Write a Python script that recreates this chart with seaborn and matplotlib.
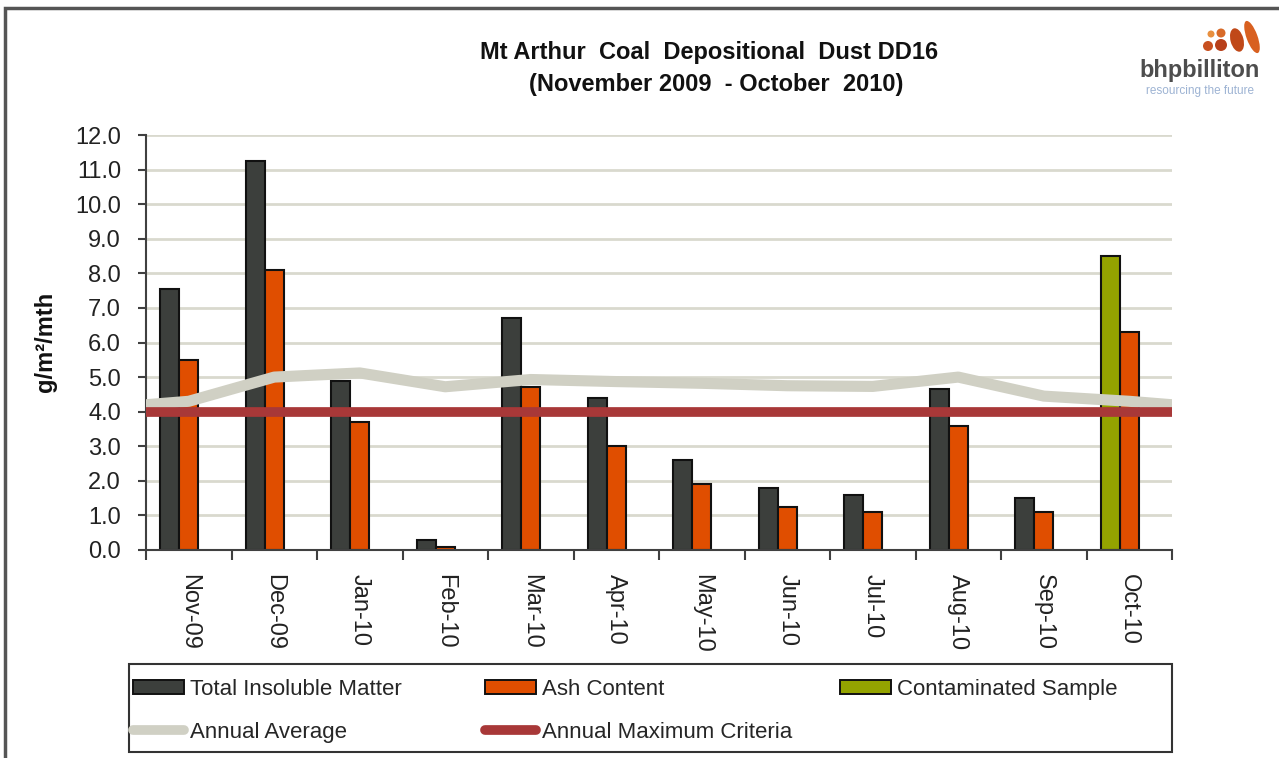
import numpy as np
import pandas as pd
import matplotlib
matplotlib.use("Agg")
import matplotlib.pyplot as plt
import seaborn as sns
from matplotlib.patches import Patch, Rectangle, Ellipse
from matplotlib.lines import Line2D

# ---------------- data ----------------
months = ["Nov-09", "Dec-09", "Jan-10", "Feb-10", "Mar-10", "Apr-10",
          "May-10", "Jun-10", "Jul-10", "Aug-10", "Sep-10", "Oct-10"]
total_insoluble = [7.55, 11.25, 4.9, 0.3, 6.7, 4.4, 2.6, 1.8, 1.6, 4.65, 1.5, np.nan]
ash_content = [5.5, 8.1, 3.7, 0.1, 4.7, 3.0, 1.9, 1.25, 1.1, 3.6, 1.1, 6.3]
contaminated = [np.nan] * 11 + [8.5]
# annual average: left edge, 12 months, right edge
annual_average = [4.2, 4.3, 5.0, 5.12, 4.72, 4.93, 4.87, 4.82, 4.75, 4.73, 5.0, 4.45, 4.3, 4.2]
annual_max_criteria = 4.0
y_ticks = [0.0, 1.0, 2.0, 3.0, 4.0, 5.0, 6.0, 7.0, 8.0, 9.0, 10.0, 11.0, 12.0]

title_1 = "Mt Arthur  Coal  Depositional  Dust DD16"
title_2 = "(November 2009  - October  2010)"
y_label = "g/m²/mth"
legend_labels = ["Total Insoluble Matter", "Ash Content", "Contaminated Sample",
                 "Annual Average", "Annual Maximum Criteria"]

# ---------------- style ----------------
C_TOTAL = "#3C3F3C"
C_ASH = "#E04E00"
C_CONT = "#94A300"
C_AVG = "#D0D0C4"
C_MAX = "#A83838"
C_GRID = "#D9D9CE"

sns.set_theme(style="white")
plt.rcParams["font.family"] = ["Liberation Sans", "DejaVu Sans"]

W, H = 1279, 758
fig = plt.figure(figsize=(W / 100, H / 100), dpi=100)
fig.patch.set_facecolor("white")
ax = fig.add_axes([146 / W, 208 / H, 1026 / W, 415 / H])

idx = np.arange(len(months))
bw = 0.222

df_total = pd.DataFrame({"x": idx - bw, "y": total_insoluble}).dropna()
df_ash = pd.DataFrame({"x": idx.astype(float), "y": ash_content}).dropna()
df_cont = pd.DataFrame({"x": idx - bw, "y": contaminated}).dropna()

common = dict(native_scale=True, width=bw, errorbar=None, saturation=1,
              edgecolor="#111111", linewidth=1.5, ax=ax, zorder=2)
sns.barplot(data=df_total, x="x", y="y", color=C_TOTAL, **common)
sns.barplot(data=df_ash, x="x", y="y", color=C_ASH, **common)
sns.barplot(data=df_cont, x="x", y="y", color=C_CONT, **common)

avg_x = np.concatenate([[idx[0] - 0.5], idx, [idx[-1] + 0.5]])
sns.lineplot(x=avg_x, y=annual_average, color=C_AVG, linewidth=8, ax=ax,
             zorder=3, sort=False)
ax.axhline(annual_max_criteria, color=C_MAX, linewidth=7, zorder=4)

ax.set_xlim(-0.5, len(months) - 0.5)
ax.set_ylim(0, 12)
ax.set_yticks(y_ticks)
ax.set_yticklabels([f"{v:.1f}" for v in y_ticks], fontsize=17, color="#222222")
ax.set_xticks(idx)
ax.set_xticklabels(months, rotation=-90, fontsize=17, color="#222222")
ax.set_xticks(np.arange(-0.5, len(months), 1.0), minor=True)
ax.tick_params(axis="x", which="major", length=0, pad=17)
ax.tick_params(axis="x", which="minor", length=7, width=1.5, color="#404040", direction="out", bottom=True)
ax.tick_params(axis="y", which="major", length=6, width=1.5, color="#404040", direction="out", left=True, pad=12)
ax.set_xlabel("")
ax.set_ylabel("")
ax.yaxis.grid(True, color=C_GRID, linewidth=2)
ax.xaxis.grid(False)
ax.set_axisbelow(True)
for s in ["top", "right"]:
    ax.spines[s].set_visible(False)
for s in ["left", "bottom"]:
    ax.spines[s].set_color("#404040")
    ax.spines[s].set_linewidth(1.5)

# ---------------- titles ----------------
fig.text(709 / W, 1 - 53 / H, title_1, ha="center", va="center", fontsize=17, fontweight="bold", color="#111111")
fig.text(716 / W, 1 - 84 / H, title_2, ha="center", va="center", fontsize=17, fontweight="bold", color="#111111")
fig.text(46 / W, 1 - 342 / H, y_label, ha="center", va="center", rotation=90, fontsize=17, fontweight="bold", color="#111111")

# ---------------- outer frame ----------------
fig.add_artist(Rectangle((5 / W, -0.2), 1.3, 0.2 + 750 / H, transform=fig.transFigure,
                         fill=False, edgecolor="#555555", linewidth=2.5))

# ---------------- legend ----------------
fig.add_artist(Rectangle((129 / W, 6 / H), 1043 / W, 88 / H, transform=fig.transFigure,
                         fill=False, edgecolor="#333333", linewidth=1.5))
h_total = Patch(facecolor=C_TOTAL, edgecolor="#111111", linewidth=1.4)
h_ash = Patch(facecolor=C_ASH, edgecolor="#111111", linewidth=1.4)
h_cont = Patch(facecolor=C_CONT, edgecolor="#111111", linewidth=1.4)
h_avg = Line2D([], [], color=C_AVG, linewidth=7, solid_capstyle="round")
h_max = Line2D([], [], color=C_MAX, linewidth=7, solid_capstyle="round")
cols = [([h_total, h_avg], [legend_labels[0], legend_labels[3]], 133),
        ([h_ash, h_max], [legend_labels[1], legend_labels[4]], 485),
        ([h_cont], [legend_labels[2]], 840)]
for handles, labels, xpx in cols:
    fig.legend(handles, labels, loc="upper left", bbox_to_anchor=(xpx / W, 1 - 679 / H),
               bbox_transform=fig.transFigure, frameon=False, fontsize=16,
               handlelength=2.3, handleheight=0.6, handletextpad=0.25,
               labelspacing=0.98, borderpad=0, borderaxespad=0)

# ---------------- logo ----------------
lax = fig.add_axes([1196 / W, 1 - 58 / H, 70 / W, 38 / H])
lax.set_xlim(0, 70)
lax.set_ylim(38, 0)
lax.axis("off")
for (cx, cy, w, h, ang, c) in [(15, 14, 7, 7, 0, "#E89040"), (25, 13, 9, 9, 0, "#D86A28"),
                               (12, 26, 10, 10, 0, "#C85020"), (25, 25, 12, 12, 0, "#B8401A"),
                               (41, 20, 13, 24, -15, "#C04818"), (56, 17, 11, 34, -20, "#D86020")]:
    lax.add_patch(Ellipse((cx, cy), w, h, angle=ang, facecolor=c, edgecolor="none"))
fig.text(1200 / W, 1 - 71 / H, "bhpbilliton", ha="center", va="center", fontsize=17,
         fontweight="bold", color="#4D4D4D")
fig.text(1200 / W, 1 - 91 / H, "resourcing the future", ha="center", va="center", fontsize=8.5,
         color="#9DB3D3")

fig.savefig("out.png", dpi=100, facecolor="white")
